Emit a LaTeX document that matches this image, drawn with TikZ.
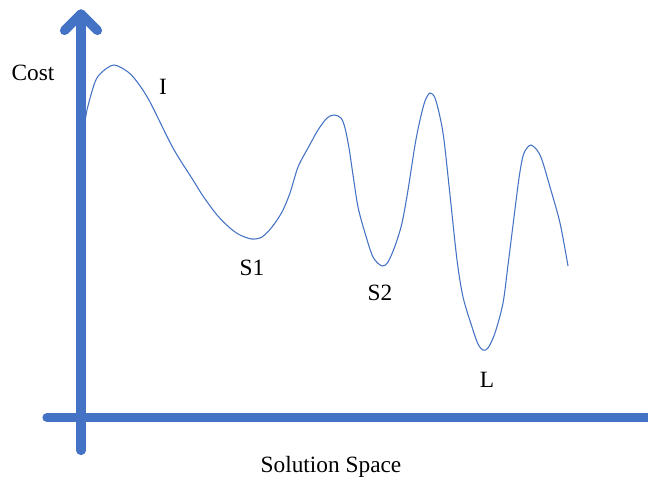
\documentclass[tikz,border=0pt]{standalone}
\usepackage{fontspec}
\setmainfont{Liberation Serif}
\definecolor{assi}{HTML}{4472C4}
\begin{document}
\begin{tikzpicture}[x=0.75pt,y=-0.75pt,
    asse/.style={draw=assi,line width=6.9pt,line cap=round,line join=round},
    curva/.style={draw=assi,line width=0.8pt},
    etichetta/.style={font=\fontsize{17.5}{21}\selectfont,inner sep=0pt}]
            \useasboundingbox (0,0) rectangle (648,482);
            % Assi
            \draw[asse] (47,417.5) -- (700,417.5);
            \draw[asse] (81,450.5) -- (81,14);
            \draw[asse] (64.5,30.5) -- (81,14) -- (97.5,30.5);

            % Curva
            \draw[curva] plot[smooth,tension=0.5] coordinates {
                (84,130) (87,110) (95,82) (102,72) (114,65) (128,72) (138,83)
                (150,102) (173,148) (193,180) (203,196) (217,215) (230,228)
                (240,235) (252,239) (262,237) (272,227) (282,212) (290,193)
                (298,167) (308,148) (318,130) (327,118) (334,115) (341,118)
                (345,128) (349,148) (353,175) (358,207) (365,233) (373,257)
                (382,266) (388,262) (395,246) (402,223) (408,190) (415,145)
                (420,120) (425,101) (430,93) (435,98) (440,117) (444,140)
                (450,195) (457,260) (463,297) (472,327) (478,344) (483,350)
                (488,348) (495,333) (503,303) (508,265) (513,225) (519,178)
                (523,156) (527,148) (531,145) (537,150) (542,160) (550,187)
                (560,223) (568,266)};

            % Etichette
            \node[etichetta] (cost) at (33,73) {Cost};
            \node[etichetta] (lblI) at (163,87) {I};
            \node[etichetta] (lblS1) at (252,268) {S1};
            \node[etichetta] (lblS2) at (380,293) {S2};
            \node[etichetta] (lblL) at (487,380) {L};
            \node[etichetta] (spazio) at (331,467) {Solution Space};
        \end{tikzpicture}
\end{document}
